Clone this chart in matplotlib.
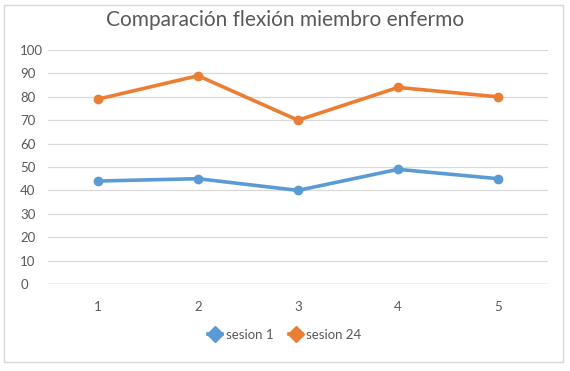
import matplotlib.pyplot as plt
from matplotlib.patches import Rectangle
from matplotlib.lines import Line2D

# --- Data ---
categories = [1, 2, 3, 4, 5]
sesion_1 = [44, 45, 40, 49, 45]
sesion_24 = [79, 89, 70, 84, 80]
series_names = ['sesion 1', 'sesion 24']
title = 'Comparación flexión miembro enfermo'

plt.rcParams['font.family'] = ['Lato', 'DejaVu Sans']

fig = plt.figure(figsize=(5.7, 3.71), dpi=100)
fig.patches.append(Rectangle((4 / 570, 9 / 371), 559 / 570, 357 / 371, transform=fig.transFigure,
                             fill=False, edgecolor='#d9d9d9', linewidth=1))
ax = fig.add_axes([48 / 570, 87 / 371, 500 / 570, 234 / 371])

blue, orange = '#5b9bd5', '#ed7d31'
ax.plot(categories, sesion_1, color=blue, linewidth=2.6, marker='o', markersize=6, label=series_names[0])
ax.plot(categories, sesion_24, color=orange, linewidth=2.6, marker='o', markersize=6, label=series_names[1])

ax.set_xlim(0.5, 5.5)
ax.set_ylim(0, 100)
ax.set_yticks(range(0, 101, 10))
ax.set_xticks(categories)
ax.grid(axis='y', color='#d9d9d9', linewidth=0.9)
ax.set_axisbelow(True)
for s in ['top', 'right', 'left', 'bottom']:
    ax.spines[s].set_visible(False)
ax.axhline(0, color='#d0d0d0', linewidth=1)
ax.tick_params(length=0, labelsize=9.5, colors='#595959')
ax.tick_params(axis='x', pad=12)
ax.tick_params(axis='y', pad=20)
for lbl in ax.get_yticklabels():
    lbl.set_horizontalalignment('left')

fig.text(0.5, 0.945, title, ha='center', va='center', fontsize=15, color='#595959')

handles = [Line2D([], [], color=c, linewidth=2.6, marker='D', markersize=8) for c in (blue, orange)]
fig.legend(handles, series_names, loc='center', bbox_to_anchor=(0.5, 36 / 371), ncol=2, frameon=False,
           fontsize=9.5, labelcolor='#595959', handlelength=1.0, handletextpad=0.3, columnspacing=1.2)

fig.savefig('out.png', dpi=100)
